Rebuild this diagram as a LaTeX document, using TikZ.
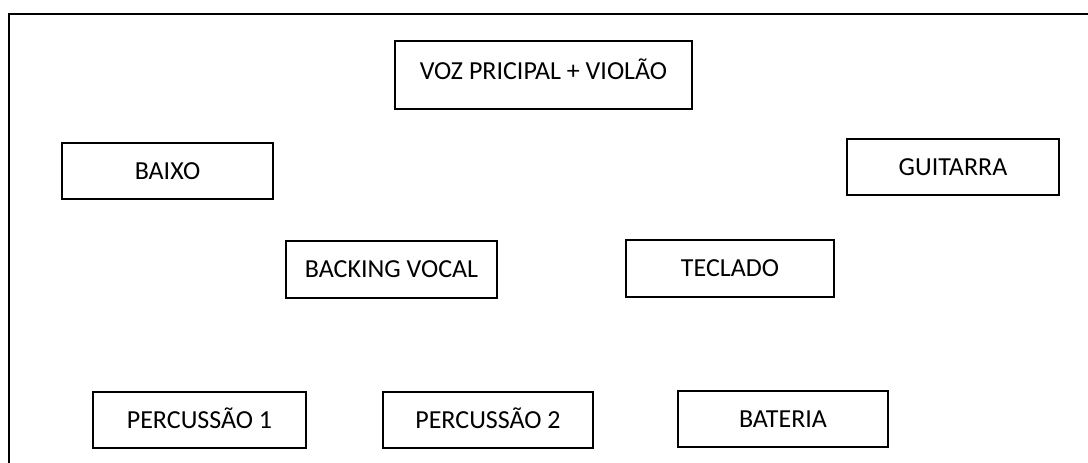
\documentclass[tikz,border=0pt]{standalone}
\usepackage{fontspec}
\setmainfont{Carlito}
\begin{document}
\begin{tikzpicture}[x=1pt,y=1pt,
  inst/.style={draw=black, line width=1.2pt, minimum height=56pt, inner sep=0pt,
    font=\fontsize{26}{30}\selectfont, text height=17pt, text depth=0pt}]
\useasboundingbox (0,0) rectangle (1088,463);
\draw[line width=2.2pt] (1088,449) -- (9,449) -- (9,0);
\node[inst, minimum width=297pt, minimum height=68pt, text depth=8pt] (voz) at (543.5,388) {VOZ PRICIPAL + VIOLÃO};
\node[inst, minimum width=211pt] (baixo) at (167.5,292) {BAIXO};
\node[inst, minimum width=212pt] (guitarra) at (953,296) {GUITARRA};
\node[inst, minimum width=211pt, minimum height=57pt] (backing) at (391.5,193.5) {BACKING VOCAL};
\node[inst, minimum width=208pt, minimum height=57pt] (teclado) at (730,194.5) {TECLADO};
\node[inst, minimum width=213pt] (perc1) at (199.5,43) {PERCUSSÃO 1};
\node[inst, minimum width=210pt] (perc2) at (488,43) {PERCUSSÃO 2};
\node[inst, minimum width=210pt] (bateria) at (783,44) {BATERIA};
\end{tikzpicture}
\end{document}
